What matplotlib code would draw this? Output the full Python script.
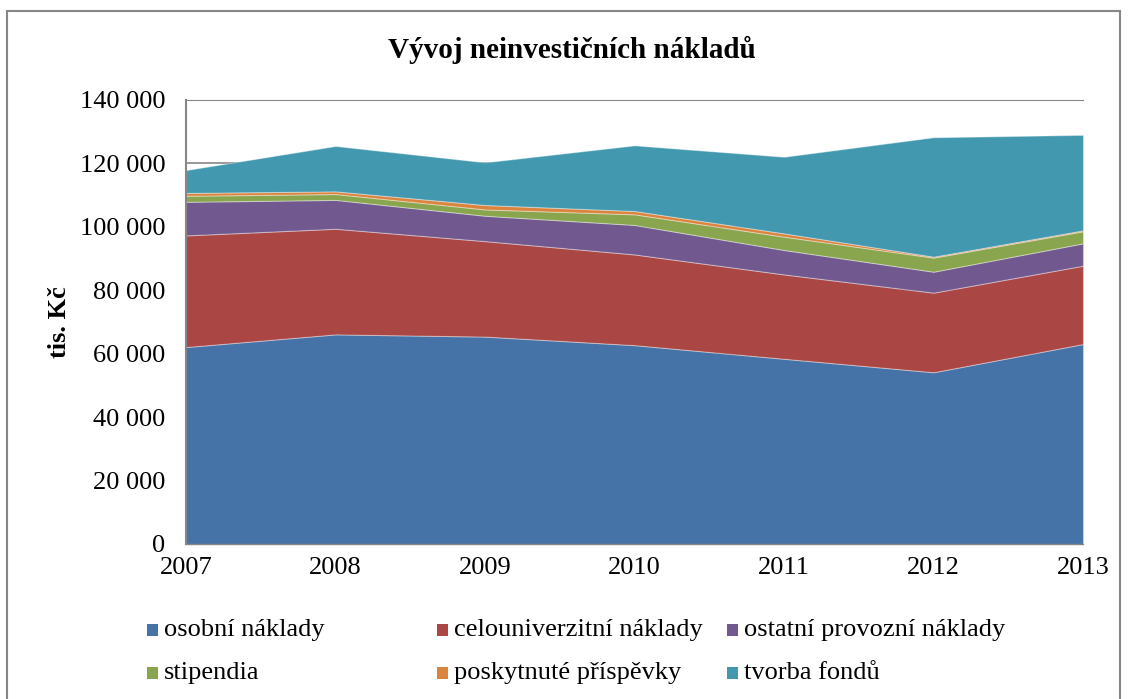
import matplotlib
matplotlib.use("Agg")
import matplotlib.pyplot as plt
from matplotlib.patches import Rectangle
from matplotlib.ticker import FuncFormatter, MultipleLocator

years = [2007, 2008, 2009, 2010, 2011, 2012, 2013]
osobni = [62100, 66100, 65400, 62700, 58400, 54150, 63050]
celouniverzitni = [35200, 33300, 30100, 28600, 26600, 25100, 24700]
ostatni = [10600, 9100, 8000, 9300, 7700, 6600, 7050]
stipendia = [1900, 1850, 2000, 3350, 4200, 4450, 3800]
prispevky = [900, 850, 1400, 1050, 1050, 300, 300]
fondy = [7200, 14300, 13450, 20700, 24150, 37650, 30100]

labels = ["osobní náklady", "celouniverzitní náklady", "ostatní provozní náklady",
          "stipendia", "poskytnuté příspěvky", "tvorba fondů"]
colors = ["#4572A7", "#AA4643", "#71588F", "#89A54E", "#DB843D", "#4198AF"]
series = [osobni, celouniverzitni, ostatni, stipendia, prispevky, fondy]

W, H = 1128, 699
fig = plt.figure(figsize=(W / 100, H / 100), dpi=100)
serif = ["Liberation Serif", "DejaVu Serif"]

# plot area in pixels: left 186, right 1083, top 100, bottom 544
ax = fig.add_axes([186 / W, 1 - 544 / H, (1083 - 186) / W, (544 - 100) / H])
ax.stackplot(years, *series, colors=colors, edgecolor=(1, 1, 1, 0.35), linewidth=0.8, zorder=2)
ax.set_xlim(2007, 2013)
ax.set_ylim(0, 140000)
ax.yaxis.set_major_locator(MultipleLocator(20000))
ax.yaxis.set_major_formatter(FuncFormatter(lambda v, p: f"{int(v):,}".replace(",", " ")))
ax.set_xticks(years)
ax.grid(axis="y", color="#868686", linewidth=1.2, zorder=0)
ax.set_axisbelow(True)
ax.spines["right"].set_visible(False)
ax.spines["top"].set_color("#868686")
ax.spines["bottom"].set_color("#868686")
ax.spines["bottom"].set_linewidth(1.0)
ax.spines["left"].set_color("#868686")
ax.spines["left"].set_linewidth(1.5)
ax.tick_params(axis="both", length=0, labelsize=19)
ax.tick_params(axis="x", pad=9)
ax.tick_params(axis="y", pad=15)
for t in ax.get_xticklabels() + ax.get_yticklabels():
    t.set_family(serif)
ax.set_ylabel("tis. Kč", family=serif, fontsize=19, fontweight="bold", labelpad=6)

fig.text(572 / W, 1 - 50 / H, "Vývoj neinvestičních nákladů", family=serif,
         fontsize=21, fontweight="bold", ha="center", va="center")

# outer chart border
fig.patches.append(Rectangle((7 / W, -0.01), (1120 - 7) / W, 1 - 11 / H + 0.01,
                             transform=fig.transFigure, fill=False,
                             edgecolor="#868686", linewidth=1.5))

# legend (Excel style grid)
pos = [(147, 630), (437, 630), (727, 630), (147, 673), (437, 673), (727, 673)]
for i, (px, py) in enumerate(pos):
    fig.patches.append(Rectangle((px / W, 1 - (py + 6) / H), 11 / W, 12 / H,
                                 transform=fig.transFigure, facecolor=colors[i],
                                 edgecolor="none"))
    fig.text((px + 17) / W, 1 - py / H, labels[i], family=serif, fontsize=19,
             ha="left", va="center")

fig.savefig("out.png", dpi=100)
